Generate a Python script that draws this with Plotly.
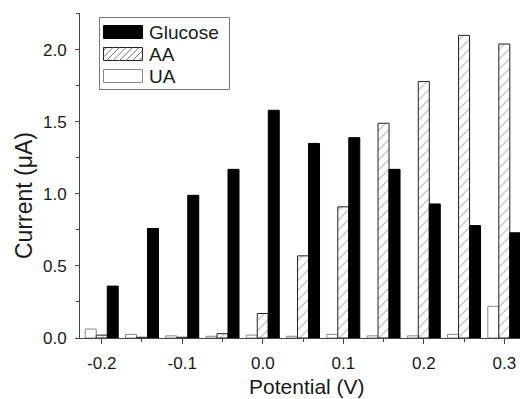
import plotly.graph_objects as go

potential = [-0.2, -0.15, -0.1, -0.05, 0.0, 0.05, 0.1, 0.15, 0.2, 0.25, 0.3]
glucose = [0.36, 0.76, 0.99, 1.17, 1.58, 1.35, 1.39, 1.17, 0.93, 0.78, 0.73]
aa = [0.02, 0.005, 0.005, 0.03, 0.17, 0.57, 0.91, 1.49, 1.78, 2.10, 2.04]
ua = [0.062, 0.025, 0.015, 0.012, 0.02, 0.012, 0.025, 0.015, 0.015, 0.025, 0.22]
legend_names = ["Glucose", "AA", "UA"]

font = "Liberation Sans, Arial, sans-serif"
W, H = 520, 399
ML, MR, MT, MB = 80, 0, 13, 61
PW, PH = W - ML - MR, H - MT - MB


def px(x):
    return (x - ML) / PW


def py(y):
    return 1 - (y - MT) / PH


fig = go.Figure()
fig.add_trace(go.Bar(
    x=potential, y=ua, name="UA", showlegend=False,
    marker=dict(color="white", line=dict(color="#8a8a8a", width=1)),
))
fig.add_trace(go.Bar(
    x=potential, y=aa, name="AA", showlegend=False,
    marker=dict(color="white", line=dict(color="#222", width=1),
                pattern=dict(shape="/", fgcolor="#666", bgcolor="white",
                             size=7, solidity=0.15)),
))
fig.add_trace(go.Bar(
    x=potential, y=glucose, name="Glucose", showlegend=False,
    marker=dict(color="black", line=dict(color="black", width=1)),
))

# ---- hand-drawn legend (wide swatches like the original) ----
shapes = []
annotations = []
box = dict(x0=99.5, x1=229.5, y0=17.5, y1=89.5)
shapes.append(dict(type="rect", xref="paper", yref="paper",
                   x0=px(box["x0"]), x1=px(box["x1"]),
                   y0=py(box["y1"]), y1=py(box["y0"]),
                   line=dict(color="#777", width=1), fillcolor="white", layer="above"))
row_centers = [32, 54, 76]
sw_x0, sw_x1, sw_h = 103.5, 142.5, 13
for name, yc in zip(legend_names, row_centers):
    top, bot = yc - sw_h / 2, yc + sw_h / 2
    if name == "Glucose":
        fill, lc = "black", "black"
    elif name == "AA":
        fill, lc = "white", "#222"
    else:
        fill, lc = "white", "#8a8a8a"
    shapes.append(dict(type="rect", xref="paper", yref="paper",
                       x0=px(sw_x0), x1=px(sw_x1), y0=py(bot), y1=py(top),
                       line=dict(color=lc, width=1), fillcolor=fill, layer="above"))
    if name == "AA":
        hh = bot - top
        wd = sw_x1 - sw_x0
        s = -hh + 3
        while s < wd:
            t0, t1 = max(0, -s), min(hh, wd - s)
            if t1 - t0 > 0.5:
                shapes.append(dict(type="line", xref="paper", yref="paper",
                                   x0=px(sw_x0 + s + t0), y0=py(bot - t0),
                                   x1=px(sw_x0 + s + t1), y1=py(bot - t1),
                                   line=dict(color="#777", width=1), layer="above"))
            s += 6.5
    annotations.append(dict(text=name, xref="paper", yref="paper",
                            x=px(147), y=py(yc + 0.5), xanchor="left", yanchor="middle",
                            showarrow=False,
                            font=dict(family=font, size=19, color="#1a1a1a")))

annotations += [
    dict(text="Potential (V)", xref="paper", yref="paper",
         x=px(307), y=py(386), xanchor="center", yanchor="middle", showarrow=False,
         font=dict(family=font, size=21, color="#1a1a1a")),
    dict(text="Current (μA)", xref="paper", yref="paper",
         x=px(24), y=py(196), xanchor="center", yanchor="middle", showarrow=False,
         textangle=-90, font=dict(family=font, size=23, color="#1a1a1a")),
]

fig.update_layout(
    width=W, height=H,
    margin=dict(l=ML, r=MR, t=MT, b=MB),
    paper_bgcolor="white", plot_bgcolor="white",
    barmode="group", bargap=0.18, bargroupgap=0,
    font=dict(family=font, size=17, color="#1a1a1a"),
    showlegend=False,
    xaxis=dict(
        range=[-0.227, 0.3195],
        tickvals=[-0.2, -0.1, 0.0, 0.1, 0.2, 0.3],
        ticktext=["-0.2", "-0.1", "0.0", "0.1", "0.2", "0.3"],
        ticks="outside", ticklen=5, tickwidth=1, tickcolor="#444",
        minor=dict(dtick=0.05, tick0=0, ticks="outside", ticklen=3,
                   tickcolor="#444", showgrid=False),
        showline=True, linecolor="#444", linewidth=1,
        showgrid=False, zeroline=False,
        tickfont=dict(family=font, size=17, color="#1a1a1a"),
        ticklabelstandoff=5,
    ),
    yaxis=dict(
        range=[0, 2.255],
        tickvals=[0, 0.5, 1.0, 1.5, 2.0],
        ticktext=["0.0", "0.5", "1.0", "1.5", "2.0"],
        ticks="outside", ticklen=4, tickwidth=1, tickcolor="#444",
        minor=dict(dtick=0.25, tick0=0, ticks="outside", ticklen=3,
                   tickcolor="#444", showgrid=False),
        showline=True, linecolor="#444", linewidth=1,
        showgrid=False, zeroline=False,
        tickfont=dict(family=font, size=17, color="#1a1a1a"),
        ticklabelstandoff=5,
    ),
    shapes=shapes,
    annotations=annotations,
)

fig.write_html("out.html")
